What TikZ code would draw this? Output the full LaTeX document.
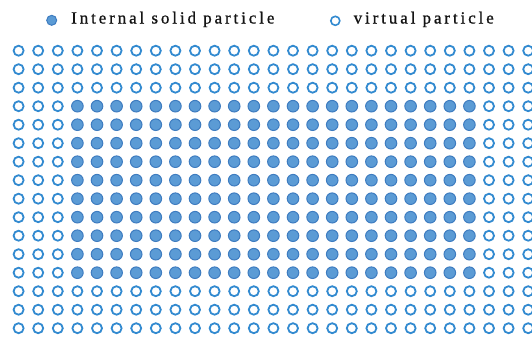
\documentclass[tikz,border=0pt]{standalone}
\usepackage{fontspec}
\setmainfont{Liberation Serif}
\newfontfamily\legendfont[LetterSpace=17,FakeBold=0.9]{Liberation Serif}
\definecolor{solidfill}{RGB}{91,155,213}
\definecolor{solidline}{RGB}{62,124,192}
\definecolor{virtline}{RGB}{50,138,208}
\definecolor{txt}{RGB}{20,20,20}
\begin{document}
\begin{tikzpicture}[x=1pt,y=-1pt,
  solidp/.style={circle,draw=solidline,fill=solidfill,line width=1pt,minimum size=11.6pt,inner sep=0pt},
  virtp/.style={circle,draw=virtline,fill=white,line width=1.8pt,minimum size=10pt,inner sep=0pt},
  legtext/.style={anchor=base west,inner sep=0pt,text=txt,font=\legendfont\fontsize{17}{20}\selectfont}]
\useasboundingbox (0,0) rectangle (532,338);
\clip (0,0) rectangle (532,338);
% legend
\node[solidp,minimum size=10pt] (legsolid) at (51.7,20.3) {};
\node[legtext] (legsolidtxt) at (71,23.5) {Internal solid particle};
\node[virtp,line width=1.6pt,minimum size=9pt] (legvirt) at (335.3,20.8) {};
\node[legtext] (legvirttxt) at (353.5,23.5) {virtual particle};
% grid
\foreach \i in {0,...,26}{
  \foreach \j in {0,...,15}{
    \pgfmathsetmacro{\px}{18.6+19.6*\i}
    \pgfmathsetmacro{\py}{50.7+18.5*\j}
    \ifnum\i>2 \ifnum\i<24 \ifnum\j>2 \ifnum\j<13
      \node[solidp] (p-\i-\j) at (\px,\py) {};
    \else
      \node[virtp] (p-\i-\j) at (\px,\py) {};
    \fi\else
      \node[virtp] (p-\i-\j) at (\px,\py) {};
    \fi\else
      \node[virtp] (p-\i-\j) at (\px,\py) {};
    \fi\else
      \node[virtp] (p-\i-\j) at (\px,\py) {};
    \fi
  }
}
\end{tikzpicture}
\end{document}
